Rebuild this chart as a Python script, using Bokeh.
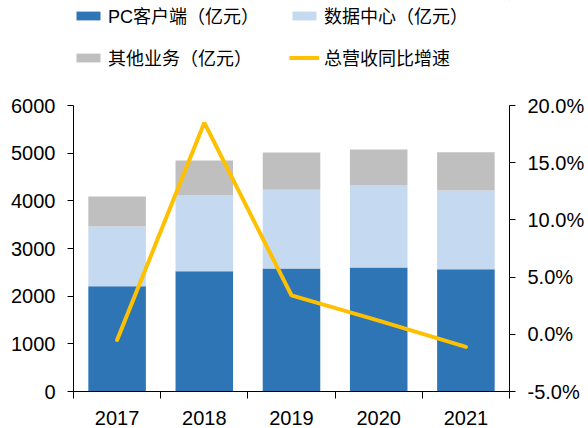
from bokeh.plotting import figure
from bokeh.layouts import column
from bokeh.models import (Range1d, LinearAxis, FixedTicker, PrintfTickFormatter,
                          Legend, LegendItem)
from bokeh.embed import file_html
from bokeh.resources import INLINE

years = ["2017", "2018", "2019", "2020", "2021"]
pc_client = [2209, 2524, 2580, 2601, 2566]
data_center = [1252, 1588, 1651, 1720, 1651]
other = [630, 734, 783, 756, 803]
growth = [-0.5, 18.5, 3.4, 1.2, -1.1]
left_ticks = [0, 1000, 2000, 3000, 4000, 5000, 6000]
right_ticks = [-5, 0, 5, 10, 15, 20]
labels = ["PC客户端（亿元）", "数据中心（亿元）", "其他业务（亿元）", "总营收同比增速"]

FONT = "Liberation Sans, Noto Sans CJK SC"
C_PC, C_DC, C_OT, C_LN = "#2E75B6", "#C5D9F1", "#BFBFBF", "#FFC000"

xs = list(range(1, len(years) + 1))
pc_top = [a for a in pc_client]
dc_top = [a + b for a, b in zip(pc_client, data_center)]
ot_top = [a + b + c for a, b, c in zip(pc_client, data_center, other)]

# ---------------- main chart ----------------
p = figure(width=588, height=343, output_backend="svg", toolbar_location=None,
           x_range=Range1d(0.5, len(years) + 0.5), y_range=Range1d(0, 6000),
           min_border_left=73, min_border_right=79, min_border_top=20,
           min_border_bottom=37)
p.outline_line_color = None
p.grid.visible = False
p.extra_y_ranges = {"pct": Range1d(-5, 20)}

w = 0.66
p.vbar(x=xs, bottom=0, top=pc_top, width=w, fill_color=C_PC, line_color=None)
p.vbar(x=xs, bottom=pc_top, top=dc_top, width=w, fill_color=C_DC, line_color=None)
p.vbar(x=xs, bottom=dc_top, top=ot_top, width=w, fill_color=C_OT, line_color=None)
p.line(x=xs, y=growth, y_range_name="pct", line_color=C_LN, line_width=4,
       line_cap="round")

def style(ax, size="20px"):
    ax.axis_line_color = "black"
    ax.axis_line_width = 1
    ax.major_tick_line_color = "black"
    ax.minor_tick_line_color = "black"
    ax.major_label_text_font = FONT
    ax.major_label_text_font_size = size
    ax.major_label_text_color = "black"

xa = p.xaxis[0]
xa.ticker = FixedTicker(ticks=xs, minor_ticks=[x - 0.5 for x in xs] + [xs[-1] + 0.5])
xa.major_label_overrides = {x: y for x, y in zip(xs, years)}
xa.major_tick_out = 0
xa.major_tick_in = 0
xa.minor_tick_out = 7
xa.minor_tick_in = 0
xa.major_label_standoff = 12
style(xa)

ya = p.yaxis[0]
ya.ticker = FixedTicker(ticks=left_ticks)
ya.major_tick_out = 6
ya.major_tick_in = 0
ya.minor_tick_out = 0
ya.minor_tick_in = 0
ya.major_label_standoff = 12
style(ya)

ra = LinearAxis(y_range_name="pct", ticker=FixedTicker(ticks=right_ticks),
                formatter=PrintfTickFormatter(format="%.1f%%"))
ra.major_tick_out = 6
ra.major_tick_in = 0
ra.minor_tick_out = 0
ra.minor_tick_in = 0
ra.major_label_standoff = 12
style(ra)
p.add_layout(ra, "right")

# ---------------- legend strip ----------------
lf = figure(width=588, height=85, output_backend="svg", toolbar_location=None,
            x_range=Range1d(0, 1), y_range=Range1d(0, 1),
            x_axis_type=None, y_axis_type=None,
            min_border_left=73, min_border_right=79, min_border_top=0, min_border_bottom=0)
lf.outline_line_color = None
lf.grid.visible = False
# legend swatches only (kept outside the visible range)
g_pc = lf.vbar(x=[9], top=[9], bottom=[8], width=0.1, fill_color=C_PC, line_color=None)
g_dc = lf.vbar(x=[9], top=[9], bottom=[8], width=0.1, fill_color=C_DC, line_color=None)
g_ot = lf.vbar(x=[9], top=[9], bottom=[8], width=0.1, fill_color=C_OT, line_color=None)
g_ln = lf.line(x=[9, 10], y=[9, 9], line_color=C_LN, line_width=4)

def make_legend(items, loc):
    lg = Legend(items=items, orientation="horizontal", location=loc,
                glyph_width=30, glyph_height=11, label_width=151, label_height=20,
                label_standoff=5, spacing=30, padding=0, margin=0,
                border_line_color=None, background_fill_alpha=0)
    lg.label_text_font = FONT
    lg.label_text_font_size = "18px"
    lg.label_text_color = "black"
    return lg

lg1 = make_legend([LegendItem(label=labels[0], renderers=[g_pc]),
                   LegendItem(label=labels[1], renderers=[g_dc])], (0, 57))
lg2 = make_legend([LegendItem(label=labels[2], renderers=[g_ot]),
                   LegendItem(label=labels[3], renderers=[g_ln])], (0, 15))
lf.add_layout(lg1, "center")
lf.add_layout(lg2, "center")

layout = column(lf, p, spacing=0)
open("out.html", "w").write(file_html(layout, INLINE))
